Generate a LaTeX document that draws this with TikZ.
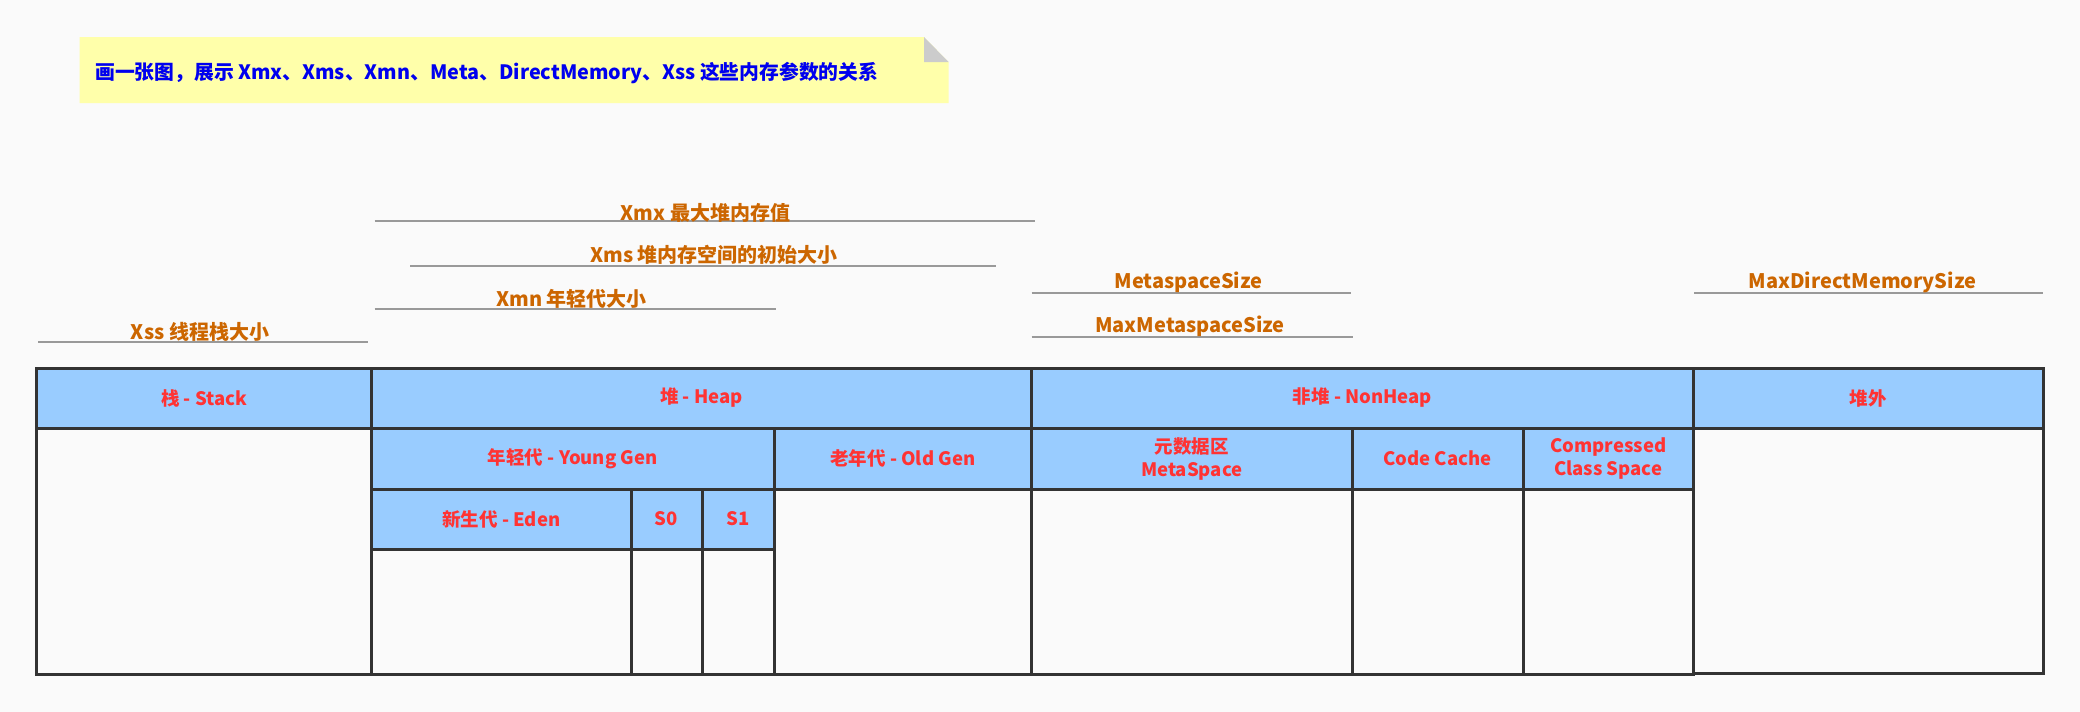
\documentclass[tikz,border=0pt]{standalone}
\usepackage{fontspec}
\setmainfont{Noto Sans CJK SC}
\definecolor{bgc}{HTML}{FAFAFA}
\definecolor{hdr}{HTML}{99CCFF}
\definecolor{bordc}{HTML}{333333}
\definecolor{redt}{HTML}{FF3333}
\definecolor{orat}{HTML}{CC6600}
\definecolor{bluet}{HTML}{0000EE}
\definecolor{notec}{HTML}{FFFFAA}
\definecolor{foldc}{HTML}{CCCCCC}
\definecolor{linec}{HTML}{999999}
\begin{document}
\begin{tikzpicture}[x=1pt,y=-1pt,
  cell/.style={draw=bordc, line width=3pt, inner sep=0pt, outer sep=0pt, anchor=north west,
    rectangle, align=center, text=redt, font=\fontsize{18.5}{23}\selectfont\bfseries},
  hcell/.style={cell, fill=hdr},
  bcell/.style={cell, fill=bgc},
  lbl/.style={text=orat, inner sep=0pt, font=\fontsize{20}{24}\selectfont\bfseries},
  uline/.style={draw=linec, line width=2pt}]
\useasboundingbox (0,0) rectangle (2080,712);
\fill[bgc] (0,0) rectangle (2080,712);

% note
\coordinate (n1) at (79.5,37);
\coordinate (n2) at (924,37);
\coordinate (n3) at (948.5,62);
\coordinate (n4) at (948.5,103);
\coordinate (n5) at (79.5,103);
\coordinate (n6) at (924,62);
\fill[notec] (n1) -- (n2) -- (n3) -- (n4) -- (n5) -- cycle;
\fill[foldc] (n2) -- (n6) -- (n3) -- cycle;
\node[anchor=west, inner sep=0pt, text=bluet, font=\fontsize{19.8}{24}\selectfont\bfseries] (note) at (95,73)
  {画一张图，展示 Xmx、Xms、Xmn、Meta、DirectMemory、Xss 这些内存参数的关系};

% labels with underlines
\coordinate (xmxA) at (374.5,221); \coordinate (xmxB) at (1034.5,221);
\coordinate (xmsA) at (410,266); \coordinate (xmsB) at (996,266);
\coordinate (xmnA) at (374.5,309); \coordinate (xmnB) at (776,309);
\coordinate (xssA) at (38,342);  \coordinate (xssB) at (368,342);
\coordinate (msA) at (1031.5,293); \coordinate (msB) at (1350.5,293);
\coordinate (mmsA) at (1031.5,337); \coordinate (mmsB) at (1353,337);
\coordinate (mdA) at (1694,293); \coordinate (mdB) at (2043,293);
\draw[uline] (xmxA) -- (xmxB);
\draw[uline] (xmsA) -- (xmsB);
\draw[uline] (xmnA) -- (xmnB);
\draw[uline] (xssA) -- (xssB);
\draw[uline] (msA) -- (msB);
\draw[uline] (mmsA) -- (mmsB);
\draw[uline] (mdA) -- (mdB);
\node[lbl] (xmx) at (705.5,213) {Xmx 最大堆内存值};
\node[lbl] (xms) at (714,255) {Xms 堆内存空间的初始大小};
\node[lbl] (xmn) at (571.5,299) {Xmn 年轻代大小};
\node[lbl] (xss) at (200,332) {Xss 线程栈大小};
\node[lbl] (ms) at (1188.5,282) {MetaspaceSize};
\node[lbl] (mms) at (1190,326) {MaxMetaspaceSize};
\node[lbl] (md) at (1862.5,282) {MaxDirectMemorySize};

% bodies
\node[bcell, minimum width=335pt, minimum height=246pt] (stackB) at (36.5,428) {};
\node[bcell, minimum width=259.5pt, minimum height=125pt] (edenB) at (371.5,549) {};
\node[bcell, minimum width=71pt, minimum height=125pt] (s0B) at (631,549) {};
\node[bcell, minimum width=72pt, minimum height=125pt] (s1B) at (702,549) {};
\node[bcell, minimum width=257.5pt, minimum height=185pt] (oldB) at (774,489) {};
\node[bcell, minimum width=320.5pt, minimum height=185pt] (metaB) at (1031.5,489) {};
\node[bcell, minimum width=171pt, minimum height=185pt] (ccB) at (1352,489) {};
\node[bcell, minimum width=170.5pt, minimum height=185pt] (cssB) at (1523,489) {};
\node[bcell, minimum width=349.5pt, minimum height=245pt] (offB) at (1693.5,428) {};

% headers
\node[hcell, minimum width=335pt, minimum height=60pt] (stackH) at (36.5,368) {栈 - Stack};
\node[hcell, minimum width=660pt, minimum height=60pt] (heapH) at (371.5,368) {堆 - Heap};
\node[hcell, minimum width=402.5pt, minimum height=61pt] (young) at (371.5,428) {年轻代 - Young Gen};
\node[hcell, minimum width=257.5pt, minimum height=61pt] (old) at (774,428) {老年代 - Old Gen};
\node[hcell, minimum width=259.5pt, minimum height=60pt] (eden) at (371.5,489) {新生代 - Eden};
\node[hcell, minimum width=71pt, minimum height=60pt] (s0) at (631,489) {S0};
\node[hcell, minimum width=72pt, minimum height=60pt] (s1) at (702,489) {S1};
\node[hcell, minimum width=662pt, minimum height=60pt] (nonheapH) at (1031.5,368) {非堆 - NonHeap};
\node[hcell, minimum width=320.5pt, minimum height=61pt] (metaH) at (1031.5,428) {元数据区\\MetaSpace};
\node[hcell, minimum width=171pt, minimum height=61pt] (ccH) at (1352,428) {Code Cache};
\node[hcell, minimum width=170.5pt, minimum height=61pt] (cssH) at (1523,428) {Compressed\\Class Space};
\node[hcell, minimum width=349.5pt, minimum height=60pt] (offH) at (1693.5,368) {堆外};
\end{tikzpicture}
\end{document}
